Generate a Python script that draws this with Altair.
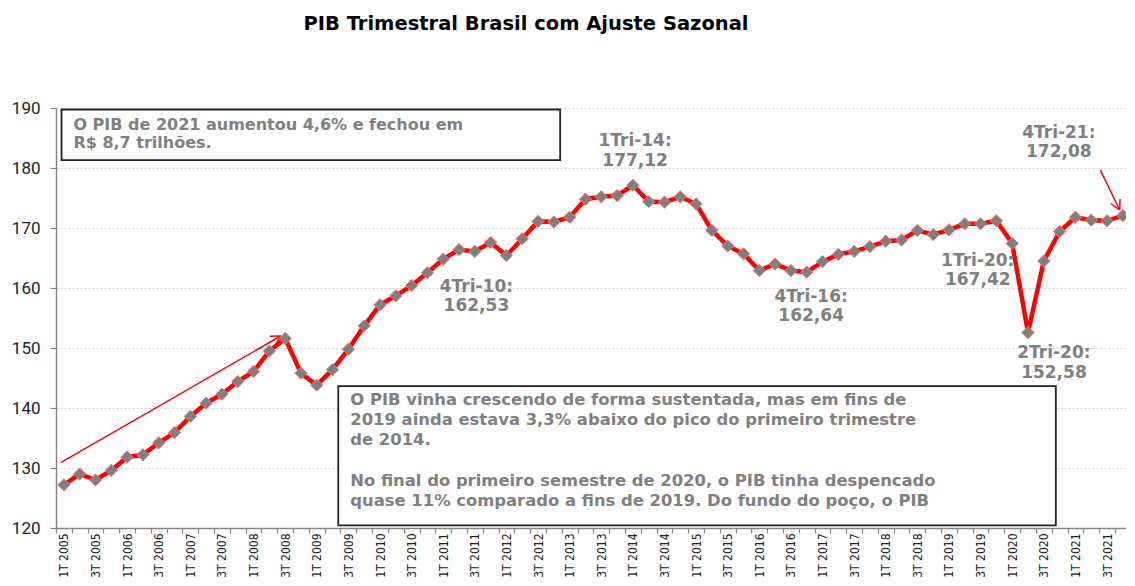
import json
import math
import altair as alt
import pandas as pd

# ---------------- data ----------------
years = list(range(2005, 2022))
quarter_names = ["1T", "2T", "3T", "4T"]
quarters = [f"{q} {y}" for y in years for q in quarter_names]

pib = [127.2, 129.0, 128.0, 129.6, 131.8, 132.2, 134.2, 135.9,
       138.6, 140.8, 142.3, 144.4, 146.1, 149.5, 151.6, 145.8,
       143.8, 146.4, 149.8, 153.7, 157.2, 158.7, 160.4, 162.53,
       164.8, 166.4, 166.1, 167.6, 165.4, 168.2, 171.1, 171.0,
       171.8, 174.8, 175.2, 175.4, 177.12, 174.4, 174.3, 175.2,
       174.0, 169.6, 167.0, 165.7, 162.9, 164.0, 162.9, 162.64,
       164.4, 165.6, 166.1, 166.9, 167.8, 168.0, 169.6, 168.9,
       169.7, 170.7, 170.7, 171.2, 167.42, 152.58, 164.5, 169.4,
       171.8, 171.3, 171.2, 172.08]

y_ticks = [120, 130, 140, 150, 160, 170, 180, 190]

title_text = "PIB Trimestral Brasil com Ajuste Sazonal"

box1_lines = ["O PIB de 2021 aumentou 4,6% e fechou em", "R$ 8,7 trilhões."]
box2_lines = ["O PIB vinha crescendo de forma sustentada, mas em fins de",
              "2019 ainda estava 3,3% abaixo do pico do primeiro trimestre",
              "de 2014.",
              "No final do primeiro semestre de 2020, o PIB tinha despencado",
              "quase 11% comparado a fins de 2019. Do fundo do poço, o PIB"]

point_labels = ["1Tri-14:", "177,12", "4Tri-10:", "162,53", "4Tri-16:", "162,64",
                "1Tri-20:", "167,42", "2Tri-20:", "152,58", "4Tri-21:", "172,08"]

# ---------------- layout (positions in data units) ----------------
W, H = 1070, 420
X_DOMAIN = [-0.5, 67.2]
Y_DOMAIN = [120, 190]
KX = W / (X_DOMAIN[1] - X_DOMAIN[0])
KY = H / (Y_DOMAIN[1] - Y_DOMAIN[0])

box1_pos = dict(x=-0.15, x2=31.4, y=189.75, y2=181.3)
box2_pos = dict(x=17.36, x2=62.76, y=143.65, y2=120.45)
box1_text_x, box1_text_y = 0.6, [187.25, 184.1]
box2_text_x, box2_text_y = 18.12, [141.3, 137.95, 134.6, 127.85, 124.5]
label_x = [36.14, 36.14, 26.1, 26.1, 47.28, 47.28, 57.82, 57.82, 62.64, 62.64, 62.95, 62.95]
label_y = [184.44, 181.22, 160.25, 157.0, 158.56, 155.34, 164.57, 161.35, 149.1, 145.9, 185.86, 182.6]
arrows = [(-0.2, 130.9, 13.72, 152.0), (65.57, 179.7, 66.8, 173.0)]

GRAY_TXT = "#808080"
AX_COL = "#868686"
ANN_FONT = "DejaVu Sans"

df = pd.DataFrame({"idx": list(range(len(pib))), "quarter": quarters, "pib": pib})

xscale = alt.Scale(domain=X_DOMAIN, nice=False, zero=False)
yscale = alt.Scale(domain=Y_DOMAIN, nice=False, zero=False)

tick_vals = [i * 0.5 for i in range(-1, 134)]
label_js = json.dumps(quarters)
x_axis = alt.Axis(
    values=tick_vals, tickCount=1000,
    labelExpr=f"(datum.value % 2 === 0) ? {label_js}[datum.value] : ''",
    labelAngle=-90, labelFont="DejaVu Sans Condensed",
    labelFontSize=12,
    labelColor="#222222", labelPadding=0, labelOverlap=False, labelFlush=False,
    tickSize=5, tickColor=AX_COL, tickWidth=1.2,
    tickOpacity={"condition": {"test": "datum.value % 1 !== 0", "value": 1}, "value": 0},
    domainColor=AX_COL, domainWidth=1.5, grid=False, title=None)
y_axis = alt.Axis(
    values=y_ticks, labelFont="Roboto", labelFontSize=17, labelColor="#222222",
    tickSize=6, tickColor=AX_COL, tickWidth=1.2, labelPadding=10,
    domainColor=AX_COL, domainWidth=1.5, gridColor="#cfcfcf", gridDash=[2, 2],
    gridWidth=1, title=None)

X = alt.X("idx:Q", scale=xscale, axis=x_axis)
Y = alt.Y("pib:Q", scale=yscale, axis=y_axis)

line = alt.Chart(df).mark_line(color="#ff0000", strokeWidth=4.5).encode(x=X, y=Y)
points = alt.Chart(df).mark_point(shape="diamond", filled=True, fill="#7f7f7f",
                                  stroke="#ff6a6a", strokeWidth=1, size=150,
                                  opacity=1).encode(x="idx:Q", y="pib:Q")

boxes = pd.DataFrame([box1_pos, box2_pos])
box_layer = alt.Chart(boxes).mark_rect(fill="white", stroke="#222222",
                                       strokeWidth=1.8).encode(
    x="x:Q", x2="x2:Q", y="y:Q", y2="y2:Q")

t1 = pd.DataFrame({"x": [box1_text_x] * len(box1_lines), "y": box1_text_y, "t": box1_lines})
t2 = pd.DataFrame({"x": [box2_text_x] * len(box2_lines), "y": box2_text_y, "t": box2_lines})
box1_txt = alt.Chart(t1).mark_text(align="left", baseline="middle", font=ANN_FONT,
                                   fontSize=16, fontWeight="bold", color=GRAY_TXT).encode(
    x="x:Q", y="y:Q", text="t:N")
box2_txt = alt.Chart(t2).mark_text(align="left", baseline="middle", font=ANN_FONT,
                                   fontSize=16.4, fontWeight="bold", color=GRAY_TXT).encode(
    x="x:Q", y="y:Q", text="t:N")

lab = pd.DataFrame({"x": label_x, "y": label_y, "t": point_labels})
lab_layer = alt.Chart(lab).mark_text(align="center", baseline="middle", font=ANN_FONT,
                                     fontSize=17, fontWeight="bold", color=GRAY_TXT).encode(
    x="x:Q", y="y:Q", text="t:N")

# arrows: shaft + open head, built in data units
segs = []
for (x0, y0, x1, y1) in arrows:
    segs.append(dict(x=x0, y=y0, x2=x1, y2=y1))
    sx0, sy0, sx1, sy1 = x0 * KX, -y0 * KY, x1 * KX, -y1 * KY
    L = math.hypot(sx1 - sx0, sy1 - sy0)
    ux, uy = (sx0 - sx1) / L, (sy0 - sy1) / L
    for a in (math.radians(28), -math.radians(28)):
        wx = ux * math.cos(a) - uy * math.sin(a)
        wy = ux * math.sin(a) + uy * math.cos(a)
        hx, hy = sx1 + wx * 11, sy1 + wy * 11
        segs.append(dict(x=x1, y=y1, x2=hx / KX, y2=-hy / KY))
arrow_layer = alt.Chart(pd.DataFrame(segs)).mark_rule(color="#ff0000", strokeWidth=1.5).encode(
    x="x:Q", y="y:Q", x2="x2:Q", y2="y2:Q")

title_layer = alt.Chart(pd.DataFrame({"t": [title_text]})).mark_text(
    align="center", baseline="middle", font="DejaVu Sans", fontSize=19.5,
    fontWeight="bold", color="#000000").encode(
    x=alt.value(470), y=alt.value(-84), text="t:N")

chart = alt.layer(line, arrow_layer, points, box_layer, box1_txt, box2_txt,
                  lab_layer, title_layer).properties(
    width=W, height=H,
    padding={"left": 48, "top": 100, "right": 0, "bottom": 50},
    autosize=alt.AutoSizeParams(type="none"),
    background="white",
).configure_view(stroke=None)

chart.save("out.html", embed_options={"renderer": "svg", "actions": False})
